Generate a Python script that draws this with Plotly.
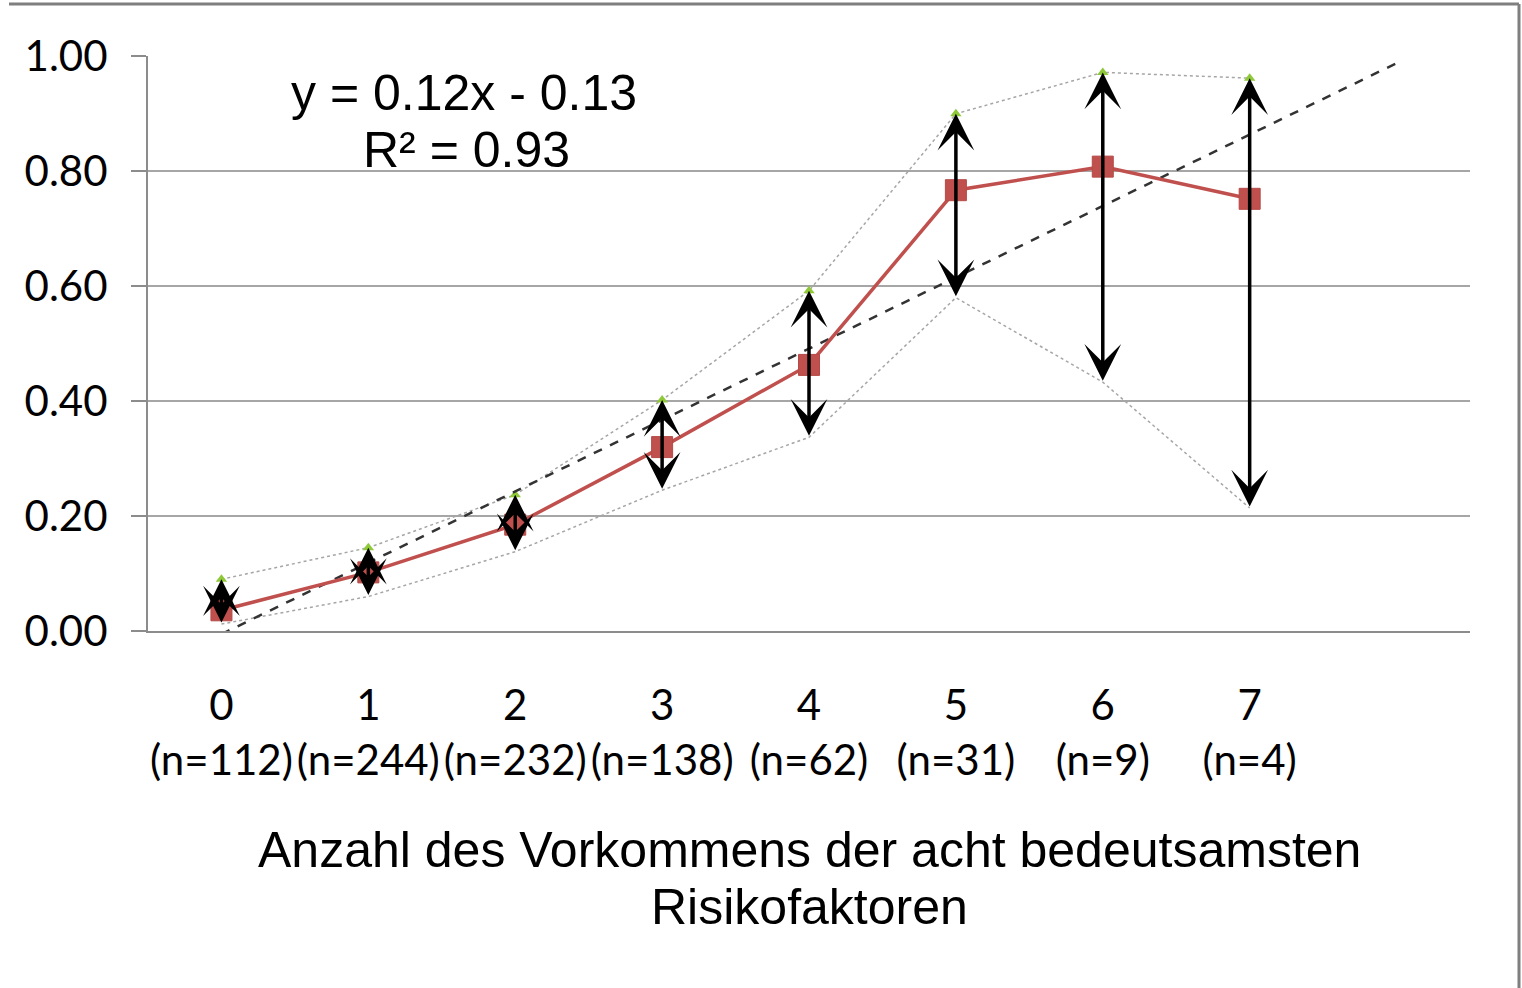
import numpy as np
import plotly.graph_objects as go

# ---- data ----
categories = ["0", "1", "2", "3", "4", "5", "6", "7"]
n_counts = [112, 244, 232, 138, 62, 31, 9, 4]
means = [0.036, 0.102, 0.185, 0.32, 0.463, 0.767, 0.808, 0.752]
upper = [0.090, 0.145, 0.237, 0.402, 0.592, 0.900, 0.972, 0.962]
lower = [0.012, 0.060, 0.138, 0.245, 0.337, 0.580, 0.433, 0.214]
y_ticks = [0.0, 0.2, 0.4, 0.6, 0.8, 1.0]
x_title_1 = "Anzahl des Vorkommens der acht bedeutsamsten"
x_title_2 = "Risikofaktoren"
eq_line1 = "y = 0.12x - 0.13"
eq_line2 = "R² = 0.93"

x_pos = list(range(len(categories)))
tick_text = [f"{c}<br>(n={n})" for c, n in zip(categories, n_counts)]

# linear trend (Excel style, x = 1..8), extended one period forward
slope, intercept = np.polyfit(np.arange(1, len(means) + 1), means, 1)
trend_x = [0, len(means)]
trend_y = [slope * (x + 1) + intercept for x in trend_x]

W, H = 1522, 988
L, R, T, B = 148, 52, 56, 357
pw, ph = W - L - R, H - T - B

def px(x):
    return (x - L) / pw

def py(y):
    return (H - B - y) / ph

fig = go.Figure()

# dotted bounds
fig.add_trace(go.Scatter(x=x_pos, y=lower, mode="lines",
                         line=dict(color="#A6A6A6", width=1.5, dash="dot"),
                         hoverinfo="skip", showlegend=False))
fig.add_trace(go.Scatter(x=x_pos, y=upper, mode="lines+markers",
                         line=dict(color="#A6A6A6", width=1.5, dash="dot"),
                         marker=dict(symbol="triangle-up", size=10, color="#8FC93A"),
                         hoverinfo="skip", showlegend=False))
# trend line
fig.add_trace(go.Scatter(x=trend_x, y=trend_y, mode="lines",
                         line=dict(color="#333333", width=2.5, dash="dash"),
                         showlegend=False))
# mean line
fig.add_trace(go.Scatter(x=x_pos, y=means, mode="lines+markers",
                         line=dict(color="#C0504D", width=3.5),
                         marker=dict(symbol="square", size=21, color="#C0504D",
                                     line=dict(color="#B54A47", width=1)),
                         showlegend=False))

annotations = []
for x, lo, hi in zip(x_pos, lower, upper):
    annotations.append(dict(
        x=x, y=hi, ax=x, ay=lo, xref="x", yref="y", axref="x", ayref="y",
        text="", showarrow=True, arrowhead=3, startarrowhead=3,
        arrowside="end+start", arrowwidth=3.5, arrowsize=1.75,
        startarrowsize=1.75, arrowcolor="#000000"))

txt_font = dict(family="Liberation Sans, Arial", size=50, color="#000000")
annotations.append(dict(x=px(464), y=py(93), xref="paper", yref="paper",
                        text=eq_line1, showarrow=False, font=txt_font,
                        xanchor="center", yanchor="middle"))
annotations.append(dict(x=px(466), y=py(150), xref="paper", yref="paper",
                        text=eq_line2, showarrow=False, font=txt_font,
                        xanchor="center", yanchor="middle"))
annotations.append(dict(x=px(809), y=py(850), xref="paper", yref="paper",
                        text=x_title_1, showarrow=False, font=txt_font,
                        xanchor="center", yanchor="middle"))
annotations.append(dict(x=px(809), y=py(907), xref="paper", yref="paper",
                        text=x_title_2, showarrow=False, font=txt_font,
                        xanchor="center", yanchor="middle"))

shapes = [
    dict(type="line", xref="paper", yref="paper", x0=px(9), x1=px(1519),
         y0=py(4), y1=py(4), line=dict(color="#7F7F7F", width=3)),
    dict(type="line", xref="paper", yref="paper", x0=px(1519), x1=px(1519),
         y0=py(4), y1=py(992), line=dict(color="#7F7F7F", width=3)),
]

fig.update_layout(
    width=W, height=H,
    margin=dict(l=L, r=R, t=T, b=B, pad=0),
    paper_bgcolor="white", plot_bgcolor="white",
    annotations=annotations, shapes=shapes,
    font=dict(family="Lato, Carlito, sans-serif", color="#000000"),
)
fig.update_xaxes(range=[-0.5, 8.5], tickmode="array", tickvals=x_pos,
                 ticktext=tick_text, showgrid=False, zeroline=False,
                 showline=True, linecolor="#8C8C8C", linewidth=2,
                 ticks="", tickfont=dict(family="Lato, sans-serif", size=42, color="#000000"),
                 ticklabelstandoff=37)
fig.update_yaxes(range=[0, 1.0005], tickmode="array", tickvals=y_ticks,
                 ticktext=[f"{v:.2f}" for v in y_ticks],
                 showgrid=True, gridcolor="#A6A6A6", gridwidth=2,
                 zeroline=False, showline=True, linecolor="#8C8C8C", linewidth=2,
                 ticks="outside", ticklen=15, tickwidth=2, tickcolor="#8C8C8C",
                 tickfont=dict(family="Lato, sans-serif", size=42, color="#000000"),
                 ticklabelstandoff=15)

fig.write_html("out.html", config={"displayModeBar": False},
               post_script="document.body.style.margin='0';document.body.style.overflow='hidden';")
